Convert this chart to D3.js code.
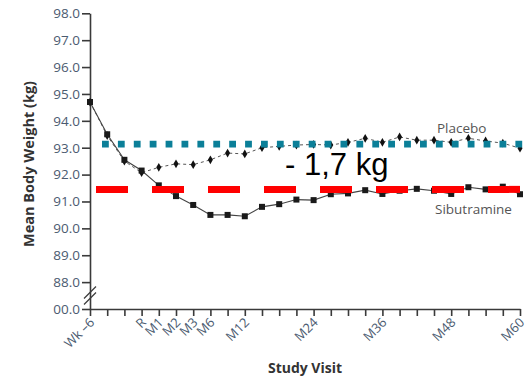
<!DOCTYPE html>
<html><head><meta charset="utf-8">
<script src="https://cdn.jsdelivr.net/npm/d3@7"></script>
<style>body{margin:0;background:#fff}svg{display:block}</style>
</head><body>
<svg id="c" width="529" height="381"></svg>
<script>
const visits = ["Wk –6","","","R","M1","M2","M3","M6","","M12","","","","M24","","","","M36","","","","M48","","","","M60"];
const sibutramine = [94.7,93.5,92.55,92.15,91.6,91.2,90.87,90.5,90.5,90.45,90.8,90.9,91.07,91.05,91.27,91.3,91.42,91.28,91.4,91.47,91.4,91.28,91.53,91.45,91.55,91.27];
const placebo = [94.7,93.45,92.5,92.07,92.27,92.4,92.37,92.55,92.8,92.77,93.0,93.05,93.1,93.12,93.1,93.2,93.35,93.2,93.4,93.28,93.28,93.2,93.35,93.25,93.17,92.98];
const yTicks = [87,88,89,90,91,92,93,94,95,96,97,98];
const yTickLabels = ["00.0","88.0","89.0","90.0","91.0","92.0","93.0","94.0","95.0","96.0","97.0","98.0"];
const placeboMean = 93.13, sibutramineMean = 91.45;
const diffLabel = "- 1,7 kg";

const svg = d3.select("#c");
const x = d3.scaleLinear().domain([0, visits.length-1]).range([90,520]);
const y = d3.scaleLinear().domain([87,98]).range([309,13.3]);
const axisColor = "#3a3a3a", labColor = "#4b5b70";
const font = "'Open Sans', sans-serif";

// y axis
const ya = svg.append("g").attr("transform","translate(90,0)")
  .call(d3.axisLeft(y).tickValues(yTicks).tickSize(8).tickSizeOuter(0).tickPadding(2)
    .tickFormat((d,i)=>yTickLabels[i]));
ya.select(".domain").attr("stroke",axisColor).attr("stroke-width",1.6);
ya.selectAll(".tick line").attr("stroke",axisColor).attr("stroke-width",1.6);
ya.selectAll(".tick text").attr("fill",labColor).style("font-family",font).style("font-size","13.5px");

// x axis
const xa = svg.append("g").attr("transform","translate(0,309)")
  .call(d3.axisBottom(x).tickValues(d3.range(visits.length)).tickSize(7).tickSizeOuter(0).tickFormat(""));
xa.select(".domain").attr("stroke",axisColor).attr("stroke-width",1.6);
xa.selectAll(".tick line").attr("stroke",axisColor).attr("stroke-width",1.6);
svg.append("g").selectAll("text").data(visits).join("text")
  .attr("transform",(d,i)=>`translate(${x(i)+2},${320}) rotate(-45)`)
  .attr("text-anchor","end").attr("dy","0.35em")
  .attr("fill",labColor).style("font-family",font).style("font-size","13px")
  .text(d=>d);

// axis break
const by = (y(88)+y(87))/2;
[-3,3].forEach(o=>{
  svg.append("line").attr("x1",84).attr("y1",by+6+o).attr("x2",96).attr("y2",by-6+o)
    .attr("stroke",axisColor).attr("stroke-width",1.3);
});

// lines
const line = d3.line().x((d,i)=>x(i)).y(d=>y(d));
svg.append("path").datum(placebo).attr("d",line).attr("fill","none")
  .attr("stroke","#555").attr("stroke-width",1).attr("stroke-dasharray","3,3");
svg.append("path").datum(sibutramine).attr("d",line).attr("fill","none")
  .attr("stroke","#444").attr("stroke-width",1.1);
svg.append("g").selectAll("path").data(placebo).join("path")
  .attr("transform",(d,i)=>`translate(${x(i)},${y(d)})`)
  .attr("d",d3.symbol(d3.symbolDiamond,22)).attr("fill","#111");
svg.append("g").selectAll("rect").data(sibutramine).join("rect")
  .attr("x",(d,i)=>x(i)-3).attr("y",d=>y(d)-3).attr("width",6).attr("height",6).attr("fill","#1a1a1a");

// mean overlays
svg.append("line").attr("x1",102).attr("x2",523).attr("y1",y(placeboMean)).attr("y2",y(placeboMean))
  .attr("stroke","#0b7f98").attr("stroke-width",6.8).attr("stroke-dasharray","6.8,9.1");
svg.append("line").attr("x1",96).attr("x2",520).attr("y1",y(sibutramineMean)).attr("y2",y(sibutramineMean))
  .attr("stroke","#ff0000").attr("stroke-width",7).attr("stroke-dasharray","32,24");

// labels
svg.append("text").attr("x",437).attr("y",133).attr("fill","#555").style("font-family",font).style("font-size","13.5px").text("Placebo");
svg.append("text").attr("x",435).attr("y",214).attr("fill","#555").style("font-family",font).style("font-size","13.5px").text("Sibutramine");
svg.append("text").attr("x",285).attr("y",175).attr("fill","#000").style("font-family","'Liberation Sans', Arial, sans-serif").style("font-size","31px").text(diffLabel);

svg.append("text").attr("transform","translate(34,164) rotate(-90)").attr("text-anchor","middle")
  .attr("fill","#333").style("font-family",font).style("font-weight","bold").style("font-size","14.5px").text("Mean Body Weight (kg)");
svg.append("text").attr("x",305).attr("y",373).attr("text-anchor","middle")
  .attr("fill","#333").style("font-family",font).style("font-weight","bold").style("font-size","14px").text("Study Visit");
</script>
</body></html>
